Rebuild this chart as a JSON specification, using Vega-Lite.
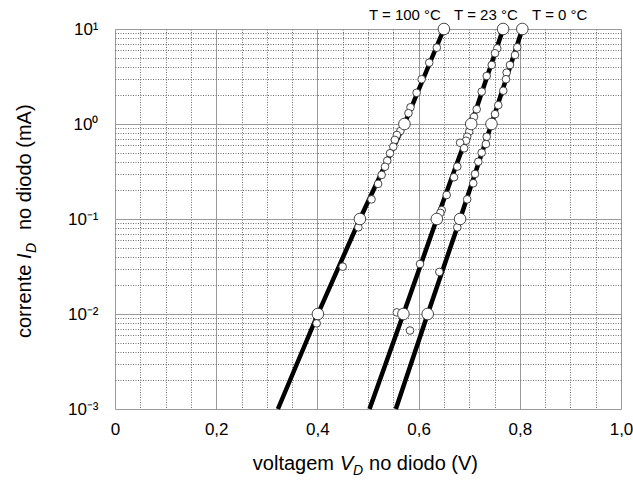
{
  "$schema": "https://vega.github.io/schema/vega-lite/v6.json",
  "autosize": {"type": "none"},
  "padding": {"left": 115, "top": 29, "right": 12, "bottom": 71},
  "width": 506,
  "height": 380,
  "background": "white",
  "config": {"view": {"stroke": null}, "font": "Liberation Sans"},
  "datasets": {
    "curves": [
      {"T": "100", "V": 0.322, "I": 0.001}, {"T": "100", "V": 0.401, "I": 0.01}, {"T": "100", "V": 0.484, "I": 0.1}, {"T": "100", "V": 0.572, "I": 1}, {"T": "100", "V": 0.650, "I": 10},
      {"T": "23", "V": 0.503, "I": 0.001}, {"T": "23", "V": 0.570, "I": 0.01}, {"T": "23", "V": 0.636, "I": 0.1}, {"T": "23", "V": 0.704, "I": 1}, {"T": "23", "V": 0.767, "I": 10},
      {"T": "0", "V": 0.555, "I": 0.001}, {"T": "0", "V": 0.618, "I": 0.01}, {"T": "0", "V": 0.682, "I": 0.1}, {"T": "0", "V": 0.744, "I": 1}, {"T": "0", "V": 0.805, "I": 10}
    ],
    "decades": [{"I": 0.01}, {"I": 0.1}, {"I": 1}, {"I": 10}],
    "points": [
      {"T": "100", "V": 0.636, "I": 6.36}, {"T": "100", "V": 0.621, "I": 4.42}, {"T": "100", "V": 0.606, "I": 2.96}, {"T": "100", "V": 0.596, "I": 2.13}, {"T": "100", "V": 0.584, "I": 1.50}, {"T": "100", "V": 0.580, "I": 1.30}, {"T": "100", "V": 0.564, "I": 0.843}, {"T": "100", "V": 0.557, "I": 0.766}, {"T": "100", "V": 0.553, "I": 0.68}, {"T": "100", "V": 0.550, "I": 0.577}, {"T": "100", "V": 0.5435, "I": 0.492}, {"T": "100", "V": 0.538, "I": 0.411}, {"T": "100", "V": 0.5336, "I": 0.355}, {"T": "100", "V": 0.527, "I": 0.291}, {"T": "100", "V": 0.520, "I": 0.234}, {"T": "100", "V": 0.507, "I": 0.161}, {"T": "100", "V": 0.481, "I": 0.0817}, {"T": "100", "V": 0.450, "I": 0.0315}, {"T": "100", "V": 0.3986, "I": 0.00798},
      {"T": "23", "V": 0.7555, "I": 6.26}, {"T": "23", "V": 0.751, "I": 5.55}, {"T": "23", "V": 0.7445, "I": 4.18}, {"T": "23", "V": 0.7346, "I": 3.20}, {"T": "23", "V": 0.7247, "I": 2.19}, {"T": "23", "V": 0.7148, "I": 1.43}, {"T": "23", "V": 0.7095, "I": 1.19}, {"T": "23", "V": 0.700, "I": 0.83}, {"T": "23", "V": 0.696, "I": 0.734}, {"T": "23", "V": 0.6937, "I": 0.667}, {"T": "23", "V": 0.682, "I": 0.635}, {"T": "23", "V": 0.690, "I": 0.555}, {"T": "23", "V": 0.6765, "I": 0.356}, {"T": "23", "V": 0.670, "I": 0.275}, {"T": "23", "V": 0.6555, "I": 0.179}, {"T": "23", "V": 0.6457, "I": 0.124}, {"T": "23", "V": 0.643, "I": 0.116}, {"T": "23", "V": 0.6028, "I": 0.0336}, {"T": "23", "V": 0.557, "I": 0.0104}, {"T": "23", "V": 0.583, "I": 0.0067},
      {"T": "0", "V": 0.795, "I": 6.41}, {"T": "0", "V": 0.7905, "I": 5.32}, {"T": "0", "V": 0.7806, "I": 4.18}, {"T": "0", "V": 0.774, "I": 3.47}, {"T": "0", "V": 0.7727, "I": 2.96}, {"T": "0", "V": 0.7674, "I": 2.24}, {"T": "0", "V": 0.7575, "I": 1.58}, {"T": "0", "V": 0.751, "I": 1.27}, {"T": "0", "V": 0.7346, "I": 0.734}, {"T": "0", "V": 0.733, "I": 0.615}, {"T": "0", "V": 0.7247, "I": 0.499}, {"T": "0", "V": 0.718, "I": 0.401}, {"T": "0", "V": 0.7115, "I": 0.298}, {"T": "0", "V": 0.708, "I": 0.238}, {"T": "0", "V": 0.696, "I": 0.161}, {"T": "0", "V": 0.6765, "I": 0.0817}, {"T": "0", "V": 0.641, "I": 0.0277}
    ],
    "labels": [
      {"label": "T = 100 °C", "V": 0.573, "I": 12.4},
      {"label": "T = 23 °C", "V": 0.733, "I": 12.4},
      {"label": "T = 0 °C", "V": 0.879, "I": 12.4}
    ],
    "xtitle": [
      {"t": "voltagem", "V": 0.4328, "I": 0.000228},
      {"t": "V", "V": 0.4447, "I": 0.000228},
      {"t": "D", "V": 0.4704, "I": 0.000228},
      {"t": "no diodo (V)", "V": 0.502, "I": 0.000228}
    ],
    "ytitle": [
      {"t": "corrente", "V": -0.166, "I": 0.005589},
      {"t": "I", "V": -0.166, "I": 0.0379},
      {"t": "D", "V": -0.166, "I": 0.0439},
      {"t": "no diodo (mA)", "V": -0.166, "I": 0.0766}
    ]
  },
  "encoding": {
    "x": {
      "field": "V", "type": "quantitative",
      "scale": {"domain": [0, 1], "nice": false, "zero": false},
      "axis": {
        "title": null,
        "values": [0, 0.05, 0.1, 0.15, 0.2, 0.25, 0.3, 0.35, 0.4, 0.45, 0.5, 0.55, 0.6, 0.65, 0.7, 0.75, 0.8, 0.85, 0.9, 0.95, 1],
        "domain": false, "ticks": false, "grid": true,
        "labelOverlap": false, "labelBound": false, "labelFlush": false,
        "labelFontSize": 17, "labelFont": "Liberation Sans", "labelColor": "black", "labelPadding": 12,
        "labelExpr": "abs(datum.value*5-round(datum.value*5))<0.001 ? (datum.value == 0 ? '0' : replace(format(datum.value, '.1f'), '.', ',')) : ''",
        "gridColor": {"condition": {"test": "abs(datum.value*5-round(datum.value*5))<0.001", "value": "#9a9a9a"}, "value": "#6e6e6e"},
        "gridDash": {"condition": {"test": "abs(datum.value*5-round(datum.value*5))<0.001", "value": []}, "value": [1, 1.5]},
        "gridWidth": 1
      }
    },
    "y": {
      "field": "I", "type": "quantitative",
      "scale": {"type": "log", "domain": [0.001, 10], "nice": false},
      "axis": {
        "title": null,
        "values": [0.001, 0.002, 0.003, 0.004, 0.005, 0.006, 0.007, 0.008, 0.009, 0.01, 0.02, 0.03, 0.04, 0.05, 0.06, 0.07, 0.08, 0.09, 0.1, 0.2, 0.3, 0.4, 0.5, 0.6, 0.7, 0.8, 0.9, 1, 2, 3, 4, 5, 6, 7, 8, 9, 10],
        "domain": false, "ticks": false, "grid": true,
        "labelOverlap": false, "labelBound": false, "labelFlush": false,
        "labelFontSize": 17, "labelFont": "Liberation Sans", "labelColor": "black", "labelPadding": 17,
        "labelExpr": "abs(log(datum.value)/LN10 - round(log(datum.value)/LN10)) < 0.001 ? ['10⁻³','10⁻²','10⁻¹','10⁰','10¹'][round(log(datum.value)/LN10)+3] : ''",
        "gridColor": {"condition": {"test": "abs(log(datum.value)/LN10 - round(log(datum.value)/LN10)) < 0.001", "value": "#9a9a9a"}, "value": "#6e6e6e"},
        "gridDash": {"condition": {"test": "abs(log(datum.value)/LN10 - round(log(datum.value)/LN10)) < 0.001", "value": []}, "value": [1, 1.5]},
        "gridWidth": 1
      }
    }
  },
  "layer": [
    {
      "data": {"name": "decades"},
      "mark": {"type": "rule", "color": "black", "strokeWidth": 4},
      "encoding": {"x": {"datum": 0.347}, "x2": {"datum": 0.853}, "y": {"field": "I", "type": "quantitative"}}
    },
    {
      "data": {"name": "curves"},
      "mark": {"type": "line", "color": "black", "strokeWidth": 4.5, "clip": false},
      "encoding": {"detail": {"field": "T"}}
    },
    {
      "data": {"name": "points"},
      "mark": {"type": "point", "shape": "circle", "filled": true, "fill": "white", "stroke": "#333333", "strokeWidth": 0.9, "size": 58, "opacity": 1}
    },
    {
      "data": {"name": "curves"},
      "transform": [{"filter": "datum.I >= 0.01"}],
      "mark": {"type": "point", "shape": "circle", "filled": true, "fill": "white", "stroke": "#333333", "strokeWidth": 0.9, "size": 135, "opacity": 1, "clip": false}
    },
    {
      "data": {"name": "labels"},
      "mark": {"type": "text", "fontSize": 15, "font": "Liberation Sans", "align": "center", "baseline": "alphabetic", "color": "black"},
      "encoding": {"text": {"field": "label"}}
    },
    {
      "data": {"name": "xtitle"},
      "transform": [{"filter": "datum.t == 'voltagem'"}],
      "mark": {"type": "text", "fontSize": 20, "font": "Liberation Sans", "align": "right", "baseline": "alphabetic", "color": "black"},
      "encoding": {"text": {"field": "t"}}
    },
    {
      "data": {"name": "xtitle"},
      "transform": [{"filter": "datum.t == 'V'"}],
      "mark": {"type": "text", "fontSize": 20, "font": "Liberation Sans", "fontStyle": "italic", "align": "left", "baseline": "alphabetic", "color": "black"},
      "encoding": {"text": {"field": "t"}}
    },
    {
      "data": {"name": "xtitle"},
      "transform": [{"filter": "datum.t == 'D'"}],
      "mark": {"type": "text", "fontSize": 14, "font": "Liberation Sans", "fontStyle": "italic", "align": "left", "baseline": "alphabetic", "color": "black", "dy": 5},
      "encoding": {"text": {"field": "t"}}
    },
    {
      "data": {"name": "xtitle"},
      "transform": [{"filter": "datum.t == 'no diodo (V)'"}],
      "mark": {"type": "text", "fontSize": 20, "font": "Liberation Sans", "align": "left", "baseline": "alphabetic", "color": "black"},
      "encoding": {"text": {"field": "t"}}
    },
    {
      "data": {"name": "ytitle"},
      "transform": [{"filter": "datum.t == 'corrente' || datum.t == 'no diodo (mA)'"}],
      "mark": {"type": "text", "fontSize": 20, "font": "Liberation Sans", "angle": 270, "align": "left", "baseline": "alphabetic", "color": "black"},
      "encoding": {"text": {"field": "t"}}
    },
    {
      "data": {"name": "ytitle"},
      "transform": [{"filter": "datum.t == 'I'"}],
      "mark": {"type": "text", "fontSize": 20, "font": "Liberation Sans", "fontStyle": "italic", "angle": 270, "align": "left", "baseline": "alphabetic", "color": "black"},
      "encoding": {"text": {"field": "t"}}
    },
    {
      "data": {"name": "ytitle"},
      "transform": [{"filter": "datum.t == 'D'"}],
      "mark": {"type": "text", "fontSize": 14, "font": "Liberation Sans", "fontStyle": "italic", "angle": 270, "align": "left", "baseline": "alphabetic", "color": "black", "dy": 5},
      "encoding": {"text": {"field": "t"}}
    }
  ]
}
